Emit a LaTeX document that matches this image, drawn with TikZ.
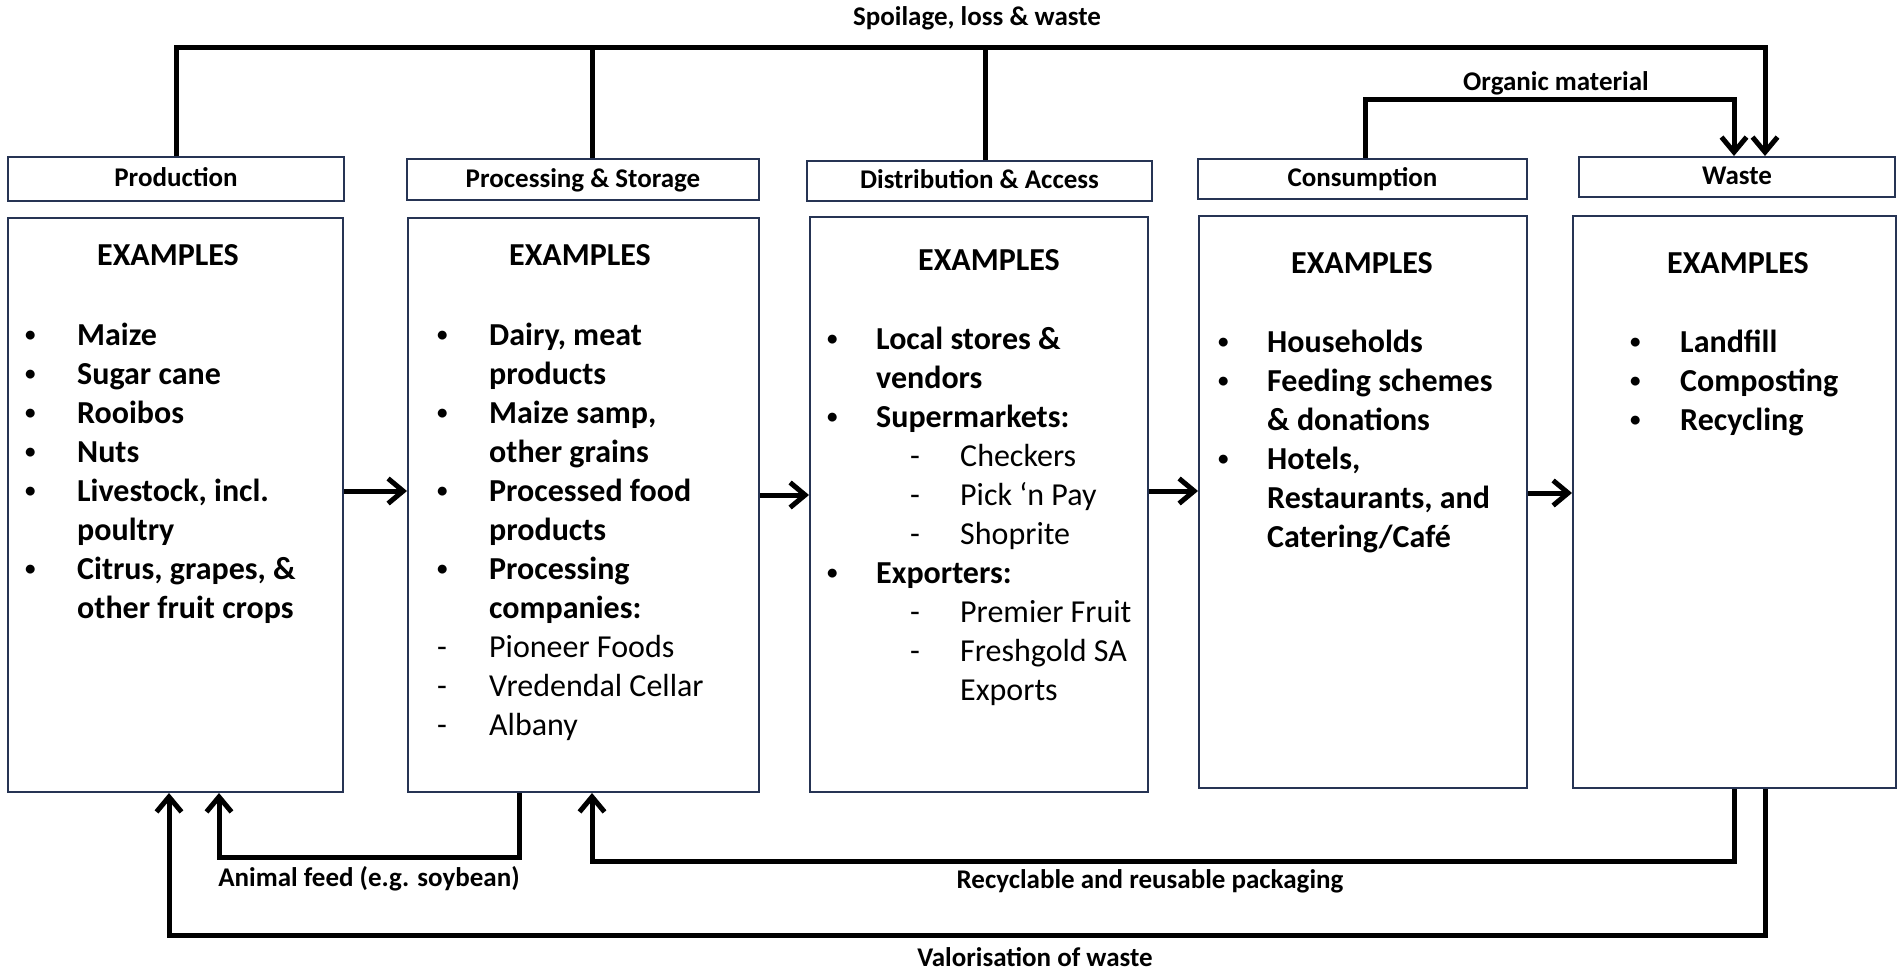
\documentclass[tikz,border=0pt]{standalone}
\usepackage{fontspec}
\setmainfont{Carlito}
\usetikzlibrary{arrows.meta}
\definecolor{boxline}{RGB}{38,52,84}
\newcommand\smallbul{\raisebox{4pt}{\fontsize{21}{21}\selectfont\textbullet}}
\newcommand\itemB[2]{\makebox[#1pt][l]{\smallbul}#2}
\newcommand\itemC[2]{\hspace*{#1pt}#2}
\newcommand\itemD[3]{\hspace*{#1pt}\makebox[#2pt][l]{-}#3}
\begin{document}
\begin{tikzpicture}[x=1pt,y=-1pt,
  hdr/.style={draw=boxline, line width=2pt, anchor=north west, inner sep=0pt,
    text height=19pt, text depth=4pt, font=\fontsize{27}{32}\selectfont\bfseries},
  mainbox/.style={draw=boxline, line width=2pt, anchor=north west, inner sep=0pt},
  flow/.style={line width=5pt, -{Straight Barb[length=15pt,width=25pt]}},
  plain/.style={line width=5pt},
  lbl/.style={font=\fontsize{27}{32}\selectfont\bfseries, inner sep=0pt, anchor=base},
  exh/.style={font=\fontsize{32}{39}\selectfont\bfseries, inner sep=0pt, anchor=base},
  lst/.style={inner sep=0pt, anchor=base west, font=\fontsize{32}{39}\selectfont}
]
\useasboundingbox (0,0) rectangle (1902,971);

% header boxes
\node[hdr, minimum width=336pt, minimum height=44pt] (hprod) at (7,156) {Production};
\node[hdr, minimum width=352pt, minimum height=41pt] (hproc) at (406,158) {Processing \& Storage};
\node[hdr, minimum width=345pt, minimum height=40pt] (hdist) at (806,160) {Distribution \& Access};
\node[hdr, minimum width=329pt, minimum height=40pt] (hcons) at (1197,158) {Consumption};
\node[hdr, minimum width=316pt, minimum height=40pt] (hwaste) at (1578,156) {Waste};

% main boxes
\node[mainbox, minimum width=335pt, minimum height=574pt] (b1) at (7,217) {};
\node[mainbox, minimum width=351pt, minimum height=574pt] (b2) at (407,217) {};
\node[mainbox, minimum width=338pt, minimum height=575pt] (b3) at (809,216) {};
\node[mainbox, minimum width=328pt, minimum height=572pt] (b4) at (1198,215) {};
\node[mainbox, minimum width=323pt, minimum height=572pt] (b5) at (1572,215) {};

% EXAMPLES headings
\node[exh] (e1) at (168,265) {EXAMPLES};
\node[exh] (e2) at (580,265) {EXAMPLES};
\node[exh] (e3) at (989,270) {EXAMPLES};
\node[exh] (e4) at (1362,273) {EXAMPLES};
\node[exh] (e5) at (1738,273) {EXAMPLES};

% lists
\node[lst] (l1) at (25,345) {\parbox[t]{315pt}{\bfseries
\itemB{52}{Maize}\\
\itemB{52}{Sugar cane}\\
\itemB{52}{Rooibos}\\
\itemB{52}{Nuts}\\
\itemB{52}{Livestock, incl.}\\
\itemC{52}{poultry}\\
\itemB{52}{Citrus, grapes, \&}\\
\itemC{52}{other fruit crops}}};

\node[lst] (l2) at (437,345) {\parbox[t]{318pt}{\bfseries
\itemB{52}{Dairy, meat}\\
\itemC{52}{products}\\
\itemB{52}{Maize samp,}\\
\itemC{52}{other grains}\\
\itemB{52}{Processed food}\\
\itemC{52}{products}\\
\itemB{52}{Processing}\\
\itemC{52}{companies:}\\
{\mdseries\itemD{0}{52}{Pioneer Foods}}\\
{\mdseries\itemD{0}{52}{Vredendal Cellar}}\\
{\mdseries\itemD{0}{52}{Albany}}}};

\node[lst] (l3) at (827,349) {\parbox[t]{318pt}{\bfseries
\itemB{49}{Local stores \&}\\
\itemC{49}{vendors}\\
\itemB{49}{Supermarkets:}\\
{\mdseries\itemD{83}{50}{Checkers}}\\
{\mdseries\itemD{83}{50}{Pick ‘n Pay}}\\
{\mdseries\itemD{83}{50}{Shoprite}}\\
\itemB{49}{Exporters:}\\
{\mdseries\itemD{83}{50}{Premier Fruit}}\\
{\mdseries\itemD{83}{50}{Freshgold SA}}\\
{\mdseries\itemC{133}{Exports}}}};

\node[lst] (l4) at (1218,352) {\parbox[t]{305pt}{\bfseries
\itemB{49}{Households}\\
\itemB{49}{Feeding schemes}\\
\itemC{49}{\& donations}\\
\itemB{49}{Hotels,}\\
\itemC{49}{Restaurants, and}\\
\itemC{49}{Catering/Café}}};

\node[lst] (l5) at (1630,352) {\parbox[t]{260pt}{\bfseries
\itemB{50}{Landfill}\\
\itemB{50}{Composting}\\
\itemB{50}{Recycling}}};

% helper levels
\coordinate (topy) at (0,48);
\coordinate (orgy) at (0,100);
\coordinate (y12) at (0,491);
\coordinate (y23) at (0,495);
\coordinate (y34) at (0,491);
\coordinate (y45) at (0,493);
\coordinate (afy) at (0,857);
\coordinate (rpy) at (0,861);
\coordinate (vly) at (0,935);

% top connectors
\coordinate (sProc) at ([xshift=9pt]hproc.north);
\coordinate (sDist) at ([xshift=6pt]hdist.north);
\coordinate (sWaste) at ([xshift=28pt]hwaste.north);
\coordinate (oCons) at ([xshift=2.5pt]hcons.north);
\coordinate (oWaste) at ([xshift=-3pt]hwaste.north);
\draw[flow] (hprod.north) -- (hprod.north |- topy) -- (sWaste |- topy) -- (sWaste);
\draw[plain] (sProc) -- (sProc |- topy);
\draw[plain] (sDist) -- (sDist |- topy);
\draw[flow] (oCons) -- (oCons |- orgy) -- (oWaste |- orgy) -- (oWaste);

% horizontal flow arrows
\draw[flow] (b1.east |- y12) -- (b2.west |- y12);
\draw[flow] (b2.east |- y23) -- (b3.west |- y23);
\draw[flow] (b3.east |- y34) -- (b4.west |- y34);
\draw[flow] (b4.east |- y45) -- (b5.west |- y45);

% bottom connectors
\coordinate (fFrom) at ([xshift=-64.5pt]b2.south);
\coordinate (fTo) at ([xshift=43.5pt]b1.south);
\draw[flow] (fFrom) -- (fFrom |- afy) -- (fTo |- afy) -- (fTo);
\coordinate (pFrom) at ([xshift=-0.5pt]b5.south);
\coordinate (pTo) at ([xshift=8.5pt]b2.south);
\draw[flow] (pFrom) -- (pFrom |- rpy) -- (pTo |- rpy) -- (pTo);
\coordinate (vFrom) at ([xshift=30.5pt]b5.south);
\coordinate (vTo) at ([xshift=-6.5pt]b1.south);
\draw[flow] (vFrom) -- (vFrom |- vly) -- (vTo |- vly) -- (vTo);

% labels
\node[lbl] (lspoil) at (977,26) {Spoilage, loss \& waste};
\node[lbl] (lorg) at (1556,91) {Organic material};
\node[lbl] (lfeed) at (369,886) {Animal feed (e.g. soybean)};
\node[lbl] (lpack) at (1150,888) {Recyclable and reusable packaging};
\node[lbl] (lval) at (1035,966) {Valorisation of waste};
\end{tikzpicture}
\end{document}
